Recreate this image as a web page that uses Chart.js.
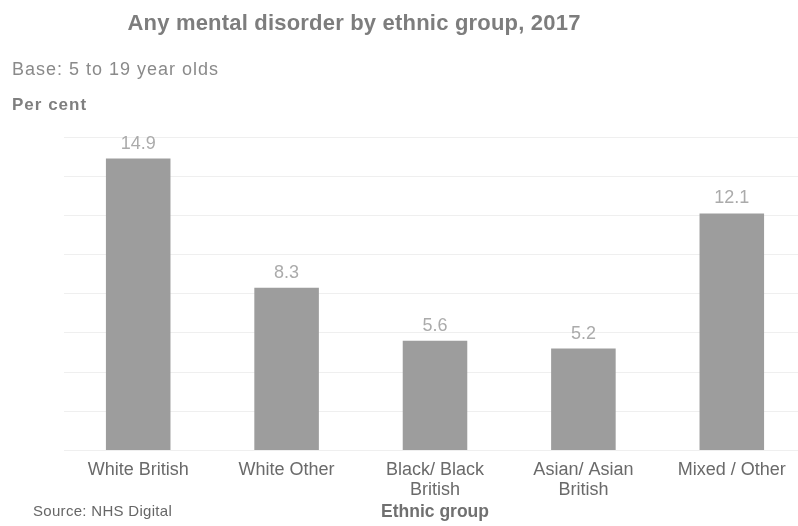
<!DOCTYPE html>
<html>
<head>
<meta charset="utf-8">
<script src="https://cdn.jsdelivr.net/npm/chart.js@4.4.1/dist/chart.umd.min.js"></script>
<style>
  html, body { margin: 0; padding: 0; background: #fff; overflow: hidden; }
  #wrap { position: relative; width: 808px; height: 526px; }
</style>
</head>
<body>
<div id="wrap"><canvas id="chart"></canvas></div>
<script>
// chart data
var categories = ['White British', 'White Other', ['Black/ Black', 'British'], ['Asian/ Asian', 'British'], 'Mixed / Other'];
var percentages = [14.9, 8.3, 5.6, 5.2, 12.1];
var yTicks = [0, 2, 4, 6, 8, 10, 12, 14, 16];

var chartTitle = 'Any mental disorder by ethnic group, 2017';
var baseText = 'Base: 5 to 19 year olds';
var unitText = 'Per cent';
var sourceText = 'Source: NHS Digital';
var xAxisTitle = 'Ethnic group';

var fontName = '"Liberation Sans", Arial, sans-serif';

// header / footer text and the value labels above the bars
const textPlugin = {
    id: 'textPlugin',
    afterDatasetsDraw(chart) {
        const { ctx } = chart;
        ctx.save();
        ctx.textBaseline = 'alphabetic';

        ctx.fillStyle = '#7d7d7d';
        ctx.font = 'bold 22px ' + fontName;
        ctx.letterSpacing = '0.2px';
        ctx.textAlign = 'center';
        ctx.fillText(chartTitle, 354, 30);

        ctx.textAlign = 'left';
        ctx.fillStyle = '#8a8a8a';
        ctx.font = '18px ' + fontName;
        ctx.letterSpacing = '1px';
        ctx.fillText(baseText, 12, 75);

        ctx.fillStyle = '#7f7f7f';
        ctx.font = 'bold 17px ' + fontName;
        ctx.fillText(unitText, 12, 110);

        ctx.fillStyle = '#666666';
        ctx.font = '15px ' + fontName;
        ctx.letterSpacing = '0.3px';
        ctx.fillText(sourceText, 33, 516);

        // value labels
        ctx.letterSpacing = '0px';
        ctx.textAlign = 'center';
        ctx.textBaseline = 'middle';
        ctx.fillStyle = '#ababab';
        ctx.font = '18px ' + fontName;
        const meta = chart.getDatasetMeta(0);
        meta.data.forEach(function(bar, i) {
            ctx.fillText(percentages[i].toFixed(1), bar.x, bar.y - 15);
        });
        ctx.restore();
    }
};

var ctx = document.getElementById('chart').getContext('2d');
var chart = new Chart(ctx, {
    type: 'bar',
    data: {
        labels: categories,
        datasets: [{
            data: percentages,
            backgroundColor: '#9d9d9d',
            borderWidth: 0,
            categoryPercentage: 1,
            barPercentage: 0.435
        }]
    },
    options: {
        responsive: true,
        maintainAspectRatio: false,
        animation: false,
        layout: {
            padding: { left: 64, right: 2, top: 137, bottom: 3 }
        },
        plugins: {
            legend: { display: false },
            tooltip: { enabled: false }
        },
        scales: {
            x: {
                grid: { display: false, drawTicks: false },
                border: { display: false },
                ticks: {
                    color: '#6a6a6a',
                    padding: 10,
                    maxRotation: 0,
                    autoSkip: false,
                    font: { family: fontName, size: 18, lineHeight: 1.1 }
                },
                title: {
                    display: true,
                    text: xAxisTitle,
                    color: '#707070',
                    padding: { top: -8, bottom: 0 },
                    font: { family: fontName, size: 17.5, weight: 'bold', lineHeight: 1.2 }
                }
            },
            y: {
                min: yTicks[0],
                max: yTicks[yTicks.length - 1],
                afterBuildTicks: function(axis) {
                    axis.ticks = yTicks.map(function(v) { return { value: v }; });
                },
                grid: { color: '#efefef', lineWidth: 1, drawTicks: false },
                border: { display: false },
                ticks: { display: false }
            }
        }
    },
    plugins: [textPlugin]
});
</script>
</body>
</html>
